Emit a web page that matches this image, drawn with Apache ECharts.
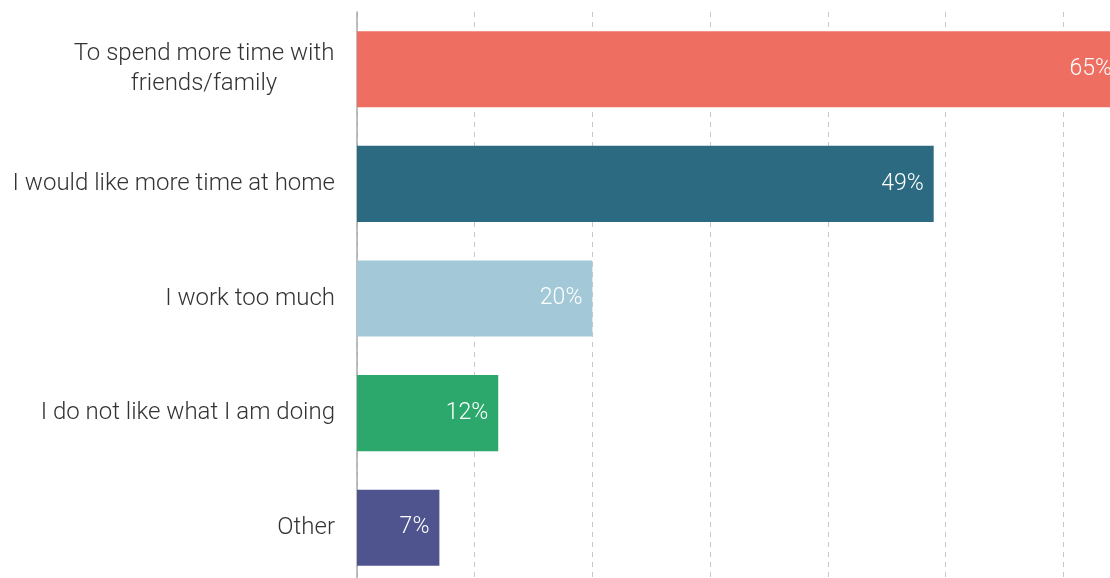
<!DOCTYPE html>
<html>
<head>
<meta charset="utf-8">
<script src="https://cdn.jsdelivr.net/npm/echarts@6/dist/echarts.min.js"></script>
<style>
  html, body { margin: 0; padding: 0; background: #fff; }
  #chart { width: 1110px; height: 578px; }
</style>
</head>
<body>
<div id="chart"></div>
<script>
const categories = [
  'To spend more time with\nfriends/family',
  'I would like more time at home',
  'I work too much',
  'I do not like what I am doing',
  'Other'
];
const values = [65, 49, 20, 12, 7];
const barColors = ['#ee6f62', '#2b6a80', '#a3c9d8', '#2da86c', '#4f548f'];

const chart = echarts.init(document.getElementById('chart'));

// multi-line labels: block right-aligned, lines centred within it
function catLabel(v) {
  if (v.indexOf('\n') < 0) return v;
  return v.split('\n').map(s => '{c|' + s + '}').join('\n');
}

const option = {
  animation: false,
  textStyle: { fontFamily: 'Roboto' },
  grid: {
    left: 357, top: 12, width: 765, height: 573,
    outerBoundsMode: 'none',
    containLabel: false
  },
  xAxis: {
    type: 'value',
    min: 0,
    max: 65,
    interval: 10,
    axisLabel: { show: false },
    axisLine: { show: false },
    axisTick: { show: false },
    splitLine: {
      show: true,
      lineStyle: { color: '#c8c8c8', type: [5, 5], width: 1 }
    }
  },
  yAxis: {
    type: 'category',
    inverse: true,
    data: categories,
    axisTick: { show: false },
    axisLine: { show: true, lineStyle: { color: '#aaaaaa', width: 1.5 } },
    axisLabel: {
      color: '#333',
      fontSize: 24,
      fontWeight: 300,
      lineHeight: 30,
      margin: 22,
      align: 'right',
      formatter: catLabel,
      rich: {
        c: {
          fontSize: 24,
          fontWeight: 300,
          color: '#333',
          lineHeight: 30,
          width: 262,
          align: 'center'
        }
      }
    }
  },
  series: [{
    type: 'bar',
    data: values.map((v, i) => ({ value: v, itemStyle: { color: barColors[i] } })),
    barCategoryGap: '33.6%',
    label: {
      show: true,
      position: 'insideRight',
      distance: 10,
      color: '#fff',
      fontSize: 23,
      fontWeight: 300,
      formatter: p => p.value + '%'
    }
  }]
};

chart.setOption(option);
</script>
</body>
</html>
